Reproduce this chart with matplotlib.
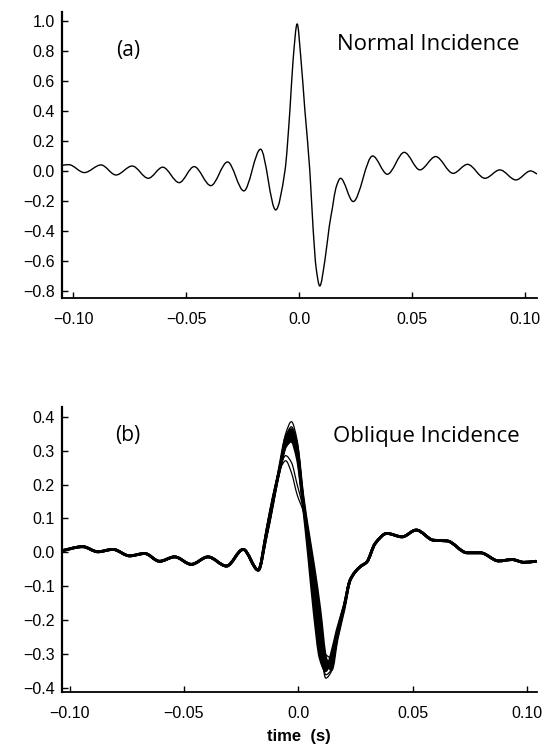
import numpy as np
import matplotlib
matplotlib.use("Agg")
import matplotlib.pyplot as plt
from matplotlib.path import Path
from matplotlib.patches import PathPatch

# ---------------- data ----------------
# (a) Normal incidence wavelet: time (s), amplitude
t_normal = [-0.1050, -0.1020, -0.0951, -0.0877, -0.0811, -0.0739, -0.0668, -0.0604,
            -0.0531, -0.0465, -0.0391, -0.0317, -0.0245, -0.0171, -0.0104, -0.0063,
            -0.0041, -0.0027, -0.0009, 0.0008, 0.0025, 0.0047, 0.0061, 0.0075,
            0.0091, 0.0114, 0.0133, 0.0148, 0.0162, 0.0183, 0.0239, 0.0325, 0.0390,
            0.0465, 0.0534, 0.0604, 0.0681, 0.0745, 0.0822, 0.0888, 0.0959,
            0.1024, 0.1053]
v_normal = [0.035, 0.040, -0.013, 0.038, -0.029, 0.031, -0.051, 0.023,
            -0.080, 0.027, -0.100, 0.058, -0.135, 0.143, -0.262, 0.000,
            0.405, 0.738, 0.978, 0.738, 0.405, 0.000, -0.373, -0.650,
            -0.769, -0.595, -0.373, -0.240, -0.118, -0.051, -0.206, 0.098, -0.024,
            0.122, 0.005, 0.094, -0.018, 0.042, -0.051, 0.005, -0.062,
            -0.002, -0.022]

# (b) Oblique incidence: shared left tail, per-trace centre, shared right tail
t_obl_left = [-0.1035, -0.0943, -0.0877, -0.0811, -0.0738, -0.0672, -0.0607, -0.0541,
              -0.0468, -0.0395, -0.0314, -0.0241, -0.0175]
v_obl_left = [0.005, 0.017, 0.002, 0.009, -0.010, -0.003, -0.026, -0.013,
              -0.035, -0.013, -0.040, 0.009, -0.052]

t_obl_centre = [-0.0140, -0.0110, -0.0080, -0.0055, -0.0030, -0.0005, 0.0020,
                0.0045, 0.0070, 0.0095, 0.0120, 0.0145, 0.0170, 0.0200]
trace_high1 = [0.040, 0.140, 0.260, 0.350, 0.385, 0.330, 0.170, 0.030, -0.120, -0.260, -0.370, -0.350, -0.260, -0.170]
trace_high2 = [0.045, 0.145, 0.255, 0.340, 0.370, 0.320, 0.170, 0.035, -0.110, -0.250, -0.360, -0.345, -0.250, -0.165]
trace_mid1 = [0.048, 0.148, 0.258, 0.338, 0.362, 0.312, 0.168, 0.055, -0.050, -0.170, -0.310, -0.345, -0.255, -0.168]
trace_mid2 = [0.050, 0.155, 0.250, 0.325, 0.350, 0.300, 0.160, 0.035, -0.100, -0.230, -0.335, -0.330, -0.242, -0.162]
trace_mid3 = [0.055, 0.155, 0.250, 0.320, 0.340, 0.290, 0.155, 0.015, -0.140, -0.270, -0.342, -0.312, -0.235, -0.160]
trace_mid4 = [0.057, 0.162, 0.248, 0.312, 0.328, 0.278, 0.148, -0.010, -0.180, -0.310, -0.348, -0.298, -0.228, -0.158]
trace_low2 = [0.065, 0.165, 0.250, 0.285, 0.265, 0.200, 0.135, 0.050, -0.080, -0.210, -0.320, -0.320, -0.235, -0.160]
trace_low1 = [0.070, 0.170, 0.245, 0.270, 0.235, 0.170, 0.125, 0.060, -0.060, -0.190, -0.300, -0.310, -0.230, -0.155]

t_obl_right = [0.0227, 0.0271, 0.0300, 0.0336, 0.0388, 0.0454, 0.0516, 0.0592,
               0.0651, 0.0739, 0.0797, 0.0877, 0.0936, 0.0987, 0.1040]
v_obl_right = [-0.081, -0.042, -0.028, 0.026, 0.056, 0.046, 0.066, 0.036,
               0.034, -0.001, -0.001, -0.025, -0.021, -0.029, -0.026]

xticks = [-0.10, -0.05, 0.0, 0.05, 0.10]
xtick_labels = ["\u22120.10", "\u22120.05", "0.0", "0.05", "0.10"]
yticks_a = [-0.8, -0.6, -0.4, -0.2, 0.0, 0.2, 0.4, 0.6, 0.8, 1.0]
yticks_b = [-0.4, -0.3, -0.2, -0.1, 0.0, 0.1, 0.2, 0.3, 0.4]


# ---------------- helpers ----------------
def smooth_verts(x, y):
    """Monotone cubic (PCHIP-like) Bezier through the read points."""
    x = np.asarray(x, float)
    y = np.asarray(y, float)
    h = np.diff(x)
    d = np.diff(y) / h
    n = len(x)
    m = np.zeros(n)
    m[0], m[-1] = d[0], d[-1]
    for k in range(1, n - 1):
        if d[k - 1] * d[k] <= 0:
            m[k] = 0.0
        else:
            w1 = 2 * h[k] + h[k - 1]
            w2 = h[k] + 2 * h[k - 1]
            m[k] = (w1 + w2) / (w1 / d[k - 1] + w2 / d[k])
    verts = [(x[0], y[0])]
    for k in range(n - 1):
        hk = h[k]
        verts.append((x[k] + hk / 3, y[k] + m[k] * hk / 3))
        verts.append((x[k + 1] - hk / 3, y[k + 1] - m[k + 1] * hk / 3))
        verts.append((x[k + 1], y[k + 1]))
    return verts


def curve(ax, x, y, lw, color="black", zorder=3):
    verts = smooth_verts(x, y)
    codes = [Path.MOVETO] + [Path.CURVE4] * (len(verts) - 1)
    patch = PathPatch(Path(verts, codes), fill=False, lw=lw, edgecolor=color,
                      capstyle="round", joinstyle="round", zorder=zorder)
    ax.add_patch(patch)


def band(ax, x1, y1, x2, y2, color="black", zorder=2):
    v1 = smooth_verts(x1, y1)
    v2 = smooth_verts(x2, y2)[::-1]
    verts = v1 + v2 + [v1[0]]
    codes = ([Path.MOVETO] + [Path.CURVE4] * (len(v1) - 1) + [Path.LINETO]
             + [Path.CURVE4] * (len(v2) - 1) + [Path.CLOSEPOLY])
    ax.add_patch(PathPatch(Path(verts, codes), facecolor=color, edgecolor="none",
                           zorder=zorder))


def style_axes(ax, yticks, yfmt):
    for s in ["top", "right"]:
        ax.spines[s].set_visible(False)
    ax.spines["left"].set_linewidth(1.6)
    ax.spines["bottom"].set_linewidth(1.3)
    ax.set_xticks(xticks)
    ax.set_xticklabels(xtick_labels)
    ax.set_yticks(yticks)
    ax.set_yticklabels([(yfmt % v).replace("-", "\u2212") if abs(v) > 1e-9 else yfmt % 0
                        for v in yticks])
    ax.tick_params(axis="x", direction="in", length=4, width=1.0, pad=10,
                   labelsize=11.5, colors="black")
    ax.tick_params(axis="y", direction="in", length=4, width=1.0, pad=5,
                   labelsize=11.5, colors="black")
    for lab in ax.get_xticklabels() + ax.get_yticklabels():
        lab.set_fontfamily("Liberation Sans")


# ---------------- figure ----------------
fig = plt.figure(figsize=(5.5, 7.47), dpi=100)

# (a)
ax1 = fig.add_axes([0.1122, 0.6007, 0.864, 0.3837])
curve(ax1, t_normal, v_normal, lw=1.0)
ax1.set_xlim(-0.1051, 0.1052)
ax1.set_ylim(-0.851, 1.06)
style_axes(ax1, yticks_a, "%.1f")
ax1.text(-0.0758, 0.80, "(a)", fontsize=15, ha="center", va="center",
         family="Open Sans")
ax1.text(0.0167, 0.84, "Normal Incidence", fontsize=16, ha="left", va="center",
         family="Open Sans")

# (b)
ax2 = fig.add_axes([0.1122, 0.0740, 0.864, 0.3815])
traces_mid = [trace_mid1, trace_mid2, trace_mid3, trace_mid4]
traces_out = [trace_high1, trace_high2, trace_low2, trace_low1]

def full(tr):
    return (t_obl_left + t_obl_centre + t_obl_right,
            v_obl_left + tr + v_obl_right)

xa, ya = full(trace_mid1)
xb, yb = full(trace_mid4)
band(ax2, xa, ya, xb, yb)
for tr in traces_mid:
    x, y = full(tr)
    curve(ax2, x, y, lw=2.0)
for tr in traces_out:
    x, y = full(tr)
    curve(ax2, x, y, lw=0.9)

ax2.set_xlim(-0.1035, 0.1044)
ax2.set_ylim(-0.41, 0.429)
style_axes(ax2, yticks_b, "%.1f")
ax2.text(-0.0746, 0.345, "(b)", fontsize=15, ha="center", va="center",
         family="Open Sans")
ax2.text(0.0152, 0.342, "Oblique Incidence", fontsize=16, ha="left", va="center",
         family="Open Sans")
ax2.set_xlabel("time  (s)", fontsize=12, fontweight="bold", family="Liberation Sans",
               labelpad=6)

fig.savefig("out.png", dpi=100)
